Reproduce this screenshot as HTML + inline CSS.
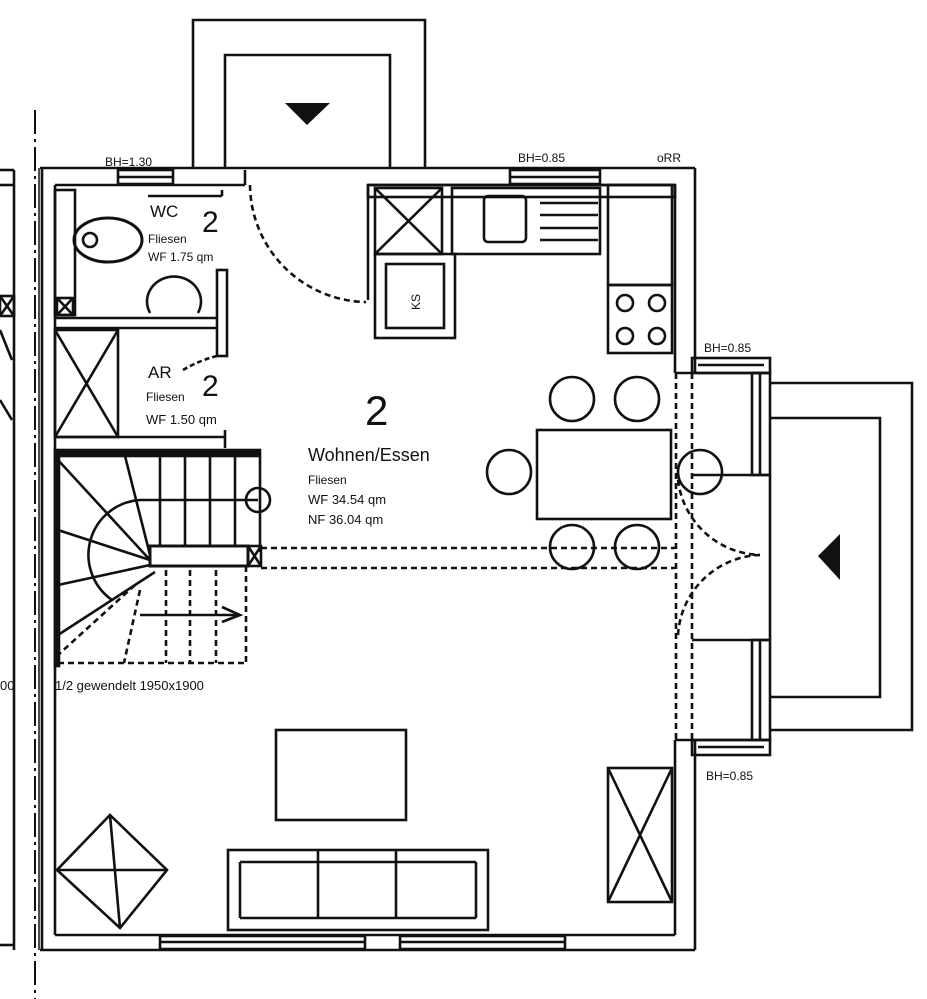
<!DOCTYPE html>
<html><head><style>
html,body{margin:0;padding:0;background:#fff;}
svg{display:block;}
text{font-family:"Liberation Sans",sans-serif;fill:#111;}
</style></head><body>
<svg width="927" height="999" viewBox="0 0 927 999" xmlns="http://www.w3.org/2000/svg">
<rect width="927" height="999" fill="#fff"/>
<g fill="none" stroke="#111" stroke-width="2.6">
<line x1="35" y1="110" x2="35" y2="999" stroke-dasharray="24,5,3,5" stroke-width="2"/>
<line x1="0" y1="170" x2="14" y2="170"/><line x1="0" y1="185" x2="14" y2="185"/>
<line x1="14" y1="170" x2="14" y2="950"/><line x1="0" y1="945" x2="14" y2="945"/>
<rect x="0" y="296" width="14" height="20"/><line x1="0" y1="296" x2="14" y2="316"/><line x1="14" y1="296" x2="0" y2="316"/>
<line x1="0" y1="330" x2="12" y2="360"/><line x1="0" y1="400" x2="12" y2="420"/>
<path d="M193 168 V20 H425 V168"/>
<path d="M225 168 V55 H390 V168"/>
<line x1="42" y1="168" x2="42" y2="950"/><line x1="39" y1="168" x2="39" y2="950" stroke-width="1.5"/>
<line x1="40" y1="168" x2="695" y2="168"/>
<line x1="55" y1="185" x2="245" y2="185"/><line x1="368" y1="185" x2="675" y2="185"/>
<line x1="55" y1="185" x2="55" y2="935"/>
<line x1="695" y1="168" x2="695" y2="373"/><line x1="675" y1="185" x2="675" y2="373"/>
<line x1="695" y1="740" x2="695" y2="950"/><line x1="675" y1="740" x2="675" y2="935"/>
<line x1="40" y1="950" x2="695" y2="950"/><line x1="55" y1="935" x2="675" y2="935"/>
<rect x="118" y="170" width="55" height="14"/><line x1="118" y1="177" x2="173" y2="177"/>
<rect x="510" y="170" width="90" height="14"/><line x1="510" y1="177" x2="600" y2="177"/>
<rect x="160" y="936" width="205" height="13"/><line x1="160" y1="942" x2="365" y2="942"/>
<rect x="400" y="936" width="165" height="13"/><line x1="400" y1="942" x2="565" y2="942"/>
<line x1="245" y1="185" x2="245" y2="170"/><line x1="368" y1="185" x2="368" y2="300"/>
<path d="M250 185 A118 118 0 0 0 366 302" stroke-dasharray="6,4"/>
<rect x="55" y="190" width="20" height="125"/>
<rect x="57" y="298" width="16" height="17"/><line x1="57" y1="298" x2="73" y2="315"/><line x1="73" y1="298" x2="57" y2="315"/>
<line x1="148" y1="196" x2="222" y2="196"/><line x1="222" y1="190" x2="222" y2="196"/>
<ellipse cx="108" cy="240" rx="34" ry="22" stroke-width="3"/><circle cx="90" cy="240" r="7"/>
<path d="M150 313 a27 25 0 1 1 48 0"/>
<line x1="55" y1="318" x2="216" y2="318"/><line x1="55" y1="328" x2="216" y2="328"/>
<rect x="217" y="270" width="10" height="86"/>
<path d="M217 356 Q200 360 183 370" stroke-dasharray="5,3"/>
<rect x="55" y="330" width="63" height="107"/><line x1="55" y1="330" x2="118" y2="437"/><line x1="118" y1="330" x2="55" y2="437"/>
<line x1="55" y1="437" x2="225" y2="437"/><line x1="225" y1="430" x2="225" y2="448"/>
<rect x="55" y="450" width="205" height="6" fill="#111"/>
<rect x="55" y="456" width="4" height="210" fill="#111"/>
<line x1="260" y1="456" x2="260" y2="552"/>
<circle cx="258" cy="500" r="12"/>
<line x1="160" y1="456" x2="160" y2="545"/><line x1="185" y1="456" x2="185" y2="545"/><line x1="210" y1="456" x2="210" y2="545"/><line x1="235" y1="456" x2="235" y2="545"/>
<path d="M258 500 H140 A55 55 0 0 0 112 600"/>
<line x1="150" y1="560" x2="58" y2="460"/><line x1="150" y1="560" x2="58" y2="530"/><line x1="150" y1="565" x2="58" y2="585"/><line x1="155" y1="572" x2="58" y2="635"/><line x1="125" y1="456" x2="150" y2="555"/>
<rect x="150" y="546" width="98" height="20" stroke-width="3"/>
<rect x="248" y="546" width="13" height="20"/><line x1="248" y1="546" x2="261" y2="566"/><line x1="261" y1="546" x2="248" y2="566"/>
<g stroke-dasharray="6,4">
<line x1="58" y1="663" x2="246" y2="663"/><line x1="246" y1="566" x2="246" y2="663"/>
<line x1="166" y1="570" x2="166" y2="663"/><line x1="190" y1="570" x2="190" y2="663"/><line x1="216" y1="570" x2="216" y2="663"/>
<line x1="140" y1="590" x2="124" y2="663"/><line x1="135" y1="585" x2="58" y2="655"/>
<line x1="261" y1="548" x2="675" y2="548"/><line x1="261" y1="568" x2="675" y2="568"/>
</g>
<line x1="140" y1="615" x2="240" y2="615"/><path d="M222 607 L240 615 L222 622"/>
<rect x="368" y="185" width="307" height="12"/>
<rect x="375" y="188" width="67" height="66"/><line x1="375" y1="188" x2="442" y2="254"/><line x1="442" y1="188" x2="375" y2="254"/>
<rect x="375" y="254" width="80" height="84"/><rect x="386" y="264" width="58" height="64"/>
<rect x="452" y="188" width="148" height="66"/>
<rect x="484" y="196" width="42" height="46" rx="4"/>
<line x1="540" y1="203" x2="598" y2="203"/><line x1="540" y1="215" x2="598" y2="215"/><line x1="540" y1="228" x2="598" y2="228"/><line x1="540" y1="240" x2="598" y2="240"/>
<rect x="608" y="185" width="64" height="100"/><rect x="608" y="285" width="64" height="68"/>
<circle cx="625" cy="303" r="8"/><circle cx="657" cy="303" r="8"/><circle cx="625" cy="336" r="8"/><circle cx="657" cy="336" r="8"/>
<rect x="537" y="430" width="134" height="89"/>
<circle cx="572" cy="399" r="22"/><circle cx="637" cy="399" r="22"/>
<circle cx="509" cy="472" r="22"/><circle cx="700" cy="472" r="22"/>
<circle cx="572" cy="547" r="22"/><circle cx="637" cy="547" r="22"/>
<line x1="675" y1="373" x2="770" y2="373"/><line x1="675" y1="740" x2="770" y2="740"/>
<rect x="692" y="358" width="78" height="15"/><line x1="698" y1="365" x2="764" y2="365"/>
<rect x="692" y="740" width="78" height="15"/><line x1="698" y1="747" x2="764" y2="747"/>
<rect x="752" y="373" width="18" height="102"/><line x1="760" y1="373" x2="760" y2="475"/>
<rect x="752" y="640" width="18" height="100"/><line x1="760" y1="640" x2="760" y2="740"/>
<line x1="692" y1="475" x2="770" y2="475"/><line x1="692" y1="640" x2="770" y2="640"/>
<line x1="770" y1="475" x2="770" y2="640"/>
<g stroke-dasharray="6,4">
<line x1="676" y1="373" x2="676" y2="740"/><line x1="692" y1="373" x2="692" y2="740"/>
<path d="M678 480 A85 85 0 0 0 760 555"/><path d="M678 635 A85 85 0 0 1 760 555"/>
</g>
<path d="M770 383 H912 V730 H770"/>
<path d="M770 418 H880 V697 H770"/>
<rect x="276" y="730" width="130" height="90"/>
<rect x="228" y="850" width="260" height="80"/>
<line x1="240" y1="862" x2="476" y2="862"/>
<line x1="240" y1="862" x2="240" y2="918"/><line x1="476" y1="862" x2="476" y2="918"/><line x1="240" y1="918" x2="476" y2="918"/>
<line x1="318" y1="850" x2="318" y2="918"/><line x1="396" y1="850" x2="396" y2="918"/>
<path d="M110 815 L167 870 L120 928 L57 870 Z"/>
<line x1="110" y1="815" x2="120" y2="928"/><line x1="57" y1="870" x2="167" y2="870"/>
<rect x="608" y="768" width="64" height="134"/><line x1="608" y1="768" x2="672" y2="902"/><line x1="672" y1="768" x2="608" y2="902"/>
</g>
<polygon points="285,103 330,103 307,125" fill="#111"/>
<polygon points="818,556 840,534 840,580" fill="#111"/>
<text x="0" y="0" font-size="12" transform="translate(420 310) rotate(-90)">KS</text>
<text x="105" y="166" font-size="12">BH=1.30</text>
<text x="518" y="162" font-size="12">BH=0.85</text>
<text x="657" y="162" font-size="12">oRR</text>
<text x="704" y="352" font-size="12">BH=0.85</text>
<text x="706" y="780" font-size="12">BH=0.85</text>
<text x="150" y="217" font-size="17">WC</text>
<text x="202" y="232" font-size="30">2</text>
<text x="148" y="243" font-size="12">Fliesen</text>
<text x="148" y="261" font-size="12">WF 1.75 qm</text>
<text x="148" y="378" font-size="17">AR</text>
<text x="202" y="396" font-size="30">2</text>
<text x="146" y="401" font-size="12">Fliesen</text>
<text x="146" y="424" font-size="13">WF 1.50 qm</text>
<text x="365" y="425" font-size="42">2</text>
<text x="308" y="461" font-size="18">Wohnen/Essen</text>
<text x="308" y="484" font-size="12">Fliesen</text>
<text x="308" y="504" font-size="13">WF 34.54 qm</text>
<text x="308" y="524" font-size="13">NF 36.04 qm</text>
<text x="55" y="690" font-size="13">1/2 gewendelt 1950x1900</text>
<text x="0" y="690" font-size="13">00</text>
</svg>
</body></html>
